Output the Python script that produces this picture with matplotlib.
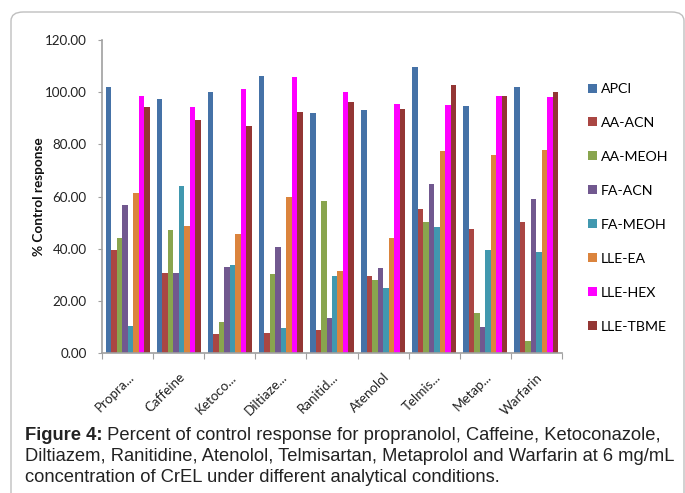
import numpy as np
import matplotlib
matplotlib.use('Agg')
import matplotlib.pyplot as plt
from matplotlib.patches import FancyBboxPatch

# Drugs (tick labels are truncated like in the original chart)
drugs = ['Propra...', 'Caffeine', 'Ketoco...', 'Diltiaze...', 'Ranitid...',
         'Atenolol', 'Telmis...', 'Metap...', 'Warfarin']

# Analytical conditions
conditions = ['APCI', 'AA-ACN', 'AA-MEOH', 'FA-ACN', 'FA-MEOH',
              'LLE-EA', 'LLE-HEX', 'LLE-TBME']
colors = ['#4572A7', '#AA4643', '#89A54E', '#71588F', '#4198AF',
          '#DB843D', '#FF00FF', '#943634']

# % control response, one list per condition (in drug order)
apci = [101.9, 97.3, 100.0, 106.1, 92.0, 93.1, 109.6, 94.6, 101.9]
aa_acn = [39.5, 30.6, 7.3, 7.7, 8.8, 29.5, 55.2, 47.5, 50.2]
aa_meoh = [44.1, 47.1, 11.9, 30.3, 58.2, 28.0, 50.2, 15.3, 4.6]
fa_acn = [56.7, 30.6, 33.0, 40.6, 13.4, 32.6, 64.8, 10.0, 59.0]
fa_meoh = [10.3, 64.0, 33.7, 9.6, 29.5, 24.9, 48.3, 39.5, 38.7]
lle_ea = [61.3, 48.7, 45.6, 59.8, 31.4, 44.1, 77.4, 75.9, 77.8]
lle_hex = [98.7, 94.3, 101.3, 105.7, 100.0, 95.3, 95.0, 98.5, 98.2]
lle_tbme = [94.4, 89.2, 87.0, 92.5, 96.2, 93.6, 102.9, 98.7, 100.0]

series = [apci, aa_acn, aa_meoh, fa_acn, fa_meoh, lle_ea, lle_hex, lle_tbme]

W, H = 685, 493
fig = plt.figure(figsize=(W / 100, H / 100), dpi=100)

# rounded frame around the chart (runs off the bottom of the image)
frame = FancyBboxPatch((11 / W, -0.1), (684 - 11) / W, 0.1 + (H - 12) / H,
                       boxstyle='round,pad=0,rounding_size=0.018',
                       transform=fig.transFigure, facecolor='none',
                       edgecolor='#BFBFBF', linewidth=1.0, clip_on=False)
fig.patches.append(frame)

left, right, top, bottom = 102, 562, 40, 353
ax = fig.add_axes([left / W, 1 - bottom / H, (right - left) / W, (bottom - top) / H])

chart_font = 'Lato'
x = np.arange(len(drugs))
group_w = 0.86
bar_w = group_w / len(series)
for i, (vals, name, c) in enumerate(zip(series, conditions, colors)):
    pos = x - group_w / 2 + bar_w * (i + 0.5)
    ax.bar(pos, vals, width=bar_w, color=c, label=name, linewidth=0)

ax.set_xlim(-0.5, len(drugs) - 0.5)
ax.set_ylim(0, 120)

# y axis
yt = np.arange(0, 121, 20)
ax.set_yticks(yt)
ax.set_yticklabels(['%.2f' % v for v in yt], fontsize=9.6, family=chart_font, color='#222222')
ax.tick_params(axis='y', length=3, color='#A0A0A0', pad=8)
ax.set_ylabel('% Control response', fontsize=9.8, family=chart_font,
              fontweight='bold', color='#111111', labelpad=0)

# x axis: ticks at group boundaries, labels at group centers
ax.set_xticks(np.arange(-0.5, len(drugs), 1.0))
ax.set_xticklabels([])
ax.tick_params(axis='x', which='major', length=4, color='#A0A0A0')
ax.set_xticks(x, minor=True)
ax.set_xticklabels(drugs, minor=True, rotation=45, ha='right', rotation_mode='anchor',
                   fontsize=9.6, family=chart_font, color='#222222')
ax.tick_params(axis='x', which='minor', length=0, pad=13)

for s in ['top', 'right']:
    ax.spines[s].set_visible(False)
for s in ['left', 'bottom']:
    ax.spines[s].set_color('#A0A0A0')
    ax.spines[s].set_linewidth(1.2)

ax.legend(loc='upper left', bbox_to_anchor=(588 / W, 1 - 83 / H),
          bbox_transform=fig.transFigure, frameon=False,
          prop={'family': chart_font, 'size': 10.2}, handlelength=0.6, handleheight=0.6,
          handletextpad=0.3, labelspacing=1.55, borderpad=0, borderaxespad=0)

# caption
cap_size = 13.2
cap_color = '#222222'
t1 = fig.text(25 / W, 1 - 440 / H, 'Figure 4:', fontsize=cap_size, family='Liberation Sans',
              fontweight='bold', color=cap_color, va='baseline')
ax.annotate(' Percent of control response for propranolol, Caffeine, Ketoconazole,',
            xy=(1, 0), xycoords=t1, va='bottom', ha='left',
            fontsize=cap_size, family='Liberation Sans', color=cap_color, annotation_clip=False)
fig.text(25 / W, 1 - 461 / H,
         'Diltiazem, Ranitidine, Atenolol, Telmisartan, Metaprolol and Warfarin at 6 mg/mL',
         fontsize=cap_size, family='Liberation Sans', color=cap_color, va='baseline')
fig.text(25 / W, 1 - 482 / H, 'concentration of CrEL under different analytical conditions.',
         fontsize=cap_size, family='Liberation Sans', color=cap_color, va='baseline')

fig.savefig('out.png', dpi=100)
